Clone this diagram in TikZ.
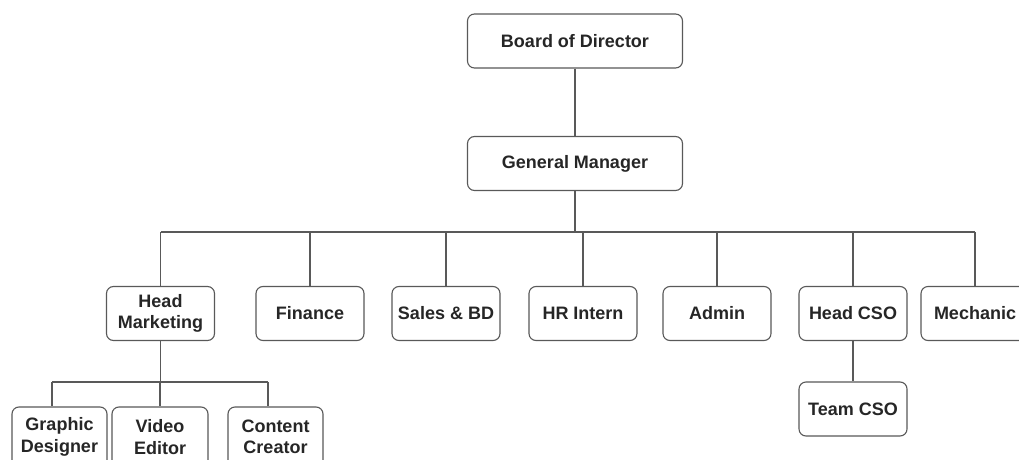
\documentclass[tikz,border=0pt]{standalone}
\usepackage{fontspec}
\setmainfont{Liberation Sans}
\begin{document}
\begin{tikzpicture}[x=1pt,y=-1pt,
  box/.style={draw=black!65, line width=1.1pt, rounded corners=7pt, fill=white,
    text=black!85, font=\bfseries\fontsize{18}{21.5}\selectfont, align=center,
    inner sep=0pt, minimum width=108, minimum height=54},
  wide/.style={minimum width=215},
  link/.style={draw=black!65, line width=1.1pt}]
\useasboundingbox (0,0) rectangle (1019,460);
\clip (0,0) rectangle (1019,460);
\fill[white] (0,0) rectangle (1019,460);
% nodes
\node[box,wide] (bod) at (575,41) {Board of Director};
\node[box,wide] (gm) at (575,163.5) {General Manager};
\node[box] (hm) at (160.5,313.5) {Head\\Marketing};
\node[box] (fin) at (310,313.5) {Finance};
\node[box] (sal) at (446,313.5) {Sales \& BD};
\node[box] (hr) at (583,313.5) {HR Intern};
\node[box] (adm) at (717,313.5) {Admin};
\node[box] (cso) at (853,313.5) {Head CSO};
\node[box] (mec) at (975,313.5) {Mechanic};
\node[box] (tcso) at (853,409) {Team CSO};
\node[box,minimum width=95,minimum height=60] (gd) at (59.5,437) {Graphic\\Designer};
\node[box,minimum width=96,minimum height=60] (ve) at (160,437) {Video\\Editor};
\node[box,minimum width=95,minimum height=60] (cc) at (275.5,437) {Content\\Creator};
% bus coordinates
\coordinate (bus) at (575,232);
\coordinate (sub) at (160.5,382);
% connectors
\draw[link] (bod) -- (gm);
\draw[link] (gm) -- (bus);
\draw[link] (hm.north |- bus) -- (mec.north |- bus);
\foreach \n in {hm,fin,sal,hr,adm,cso,mec}{
  \draw[link] (\n.north |- bus) -- (\n.north);
}
\draw[link] (cso) -- (tcso);
\draw[link] (hm) -- (sub);
\draw[link] (52,382) -- (268,382);
\draw[link] (52,382) -- (gd.north -| 52,0);
\draw[link] (ve.north |- sub) -- (ve.north);
\draw[link] (268,382) -- (gd.north -| 268,0);
\end{tikzpicture}
\end{document}
